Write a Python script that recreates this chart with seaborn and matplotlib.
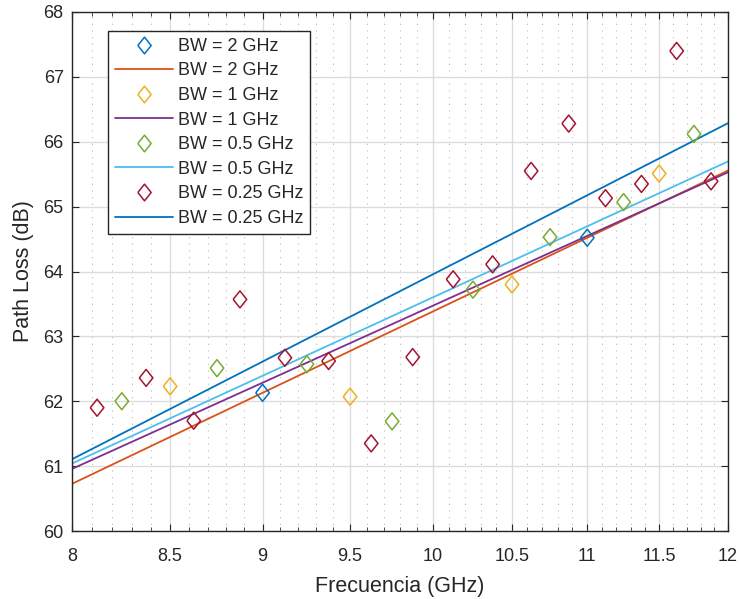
import numpy as np
import pandas as pd
import matplotlib
matplotlib.use("Agg")
import matplotlib.pyplot as plt
import seaborn as sns
from matplotlib.lines import Line2D
from matplotlib.ticker import FixedLocator, FixedFormatter, NullFormatter

# ---- data ----
freq_2 = [9.0, 11.0]
pl_2 = [62.13, 64.52]

freq_1 = [8.5, 9.5, 10.5, 11.5]
pl_1 = [62.23, 62.07, 63.80, 65.51]

freq_05 = [8.25, 8.75, 9.25, 9.75, 10.25, 10.75, 11.25, 11.75]
pl_05 = [62.00, 62.51, 62.57, 61.69, 63.72, 64.53, 65.07, 66.12]

freq_025 = [8.125, 8.375, 8.625, 8.875, 9.125, 9.375, 9.625, 9.875,
            10.125, 10.375, 10.625, 10.875, 11.125, 11.375, 11.625, 11.875]
pl_025 = [61.90, 62.36, 61.70, 63.57, 62.67, 62.62, 61.35, 62.68,
          63.88, 64.11, 65.55, 66.28, 65.13, 65.35, 67.40, 65.39]

labels = ["BW = 2 GHz", "BW = 1 GHz", "BW = 0.5 GHz", "BW = 0.25 GHz"]
marker_colors = ["#0072BD", "#EDB120", "#77AC30", "#A2142F"]
line_colors = ["#D95319", "#7E2F8E", "#4DBEEE", "#0072BD"]

x_ticks = [8, 8.5, 9, 9.5, 10, 10.5, 11, 11.5, 12]
x_tick_labels = ["8", "8.5", "9", "9.5", "10", "10.5", "11", "11.5", "12"]
y_ticks = [60, 61, 62, 63, 64, 65, 66, 67, 68]

sets = [(freq_2, pl_2), (freq_1, pl_1), (freq_05, pl_05), (freq_025, pl_025)]

sns.set_style("white")
plt.rcParams["font.family"] = ["Liberation Sans", "DejaVu Sans"]
text_c = "#262626"

fig = plt.figure(figsize=(7.39, 5.99), dpi=100)
ax = fig.add_axes([72 / 739, 1 - 531 / 599, 656 / 739, 519 / 599])
ax.set_xscale("log")

diamond = [(-0.4, 0), (0, 0.5), (0.4, 0), (0, -0.5), (-0.4, 0)]

handles = []
xfit = np.linspace(8, 12, 50)
for (f, p), lab, mc, lc in zip(sets, labels, marker_colors, line_colors):
    df = pd.DataFrame({"f": f, "pl": p})
    sns.scatterplot(data=df, x="f", y="pl", ax=ax, marker=diamond, s=150,
                    facecolors="none", edgecolor=mc, linewidth=1.1, color=mc,
                    zorder=3)
    coef = np.polyfit(np.log10(df["f"]), df["pl"], 1)
    fit_df = pd.DataFrame({"f": xfit, "pl": np.polyval(coef, np.log10(xfit))})
    sns.lineplot(data=fit_df, x="f", y="pl", ax=ax, color=lc, linewidth=1.3,
                 zorder=2)
    handles.append(Line2D([], [], linestyle="none", marker=diamond,
                          markersize=12, markerfacecolor="none",
                          markeredgecolor=mc, markeredgewidth=1.1, label=lab))
    handles.append(Line2D([], [], color=lc, linewidth=1.3, label=lab))

ax.set_xlim(8, 12)
ax.set_ylim(60, 68)
ax.xaxis.set_major_locator(FixedLocator(x_ticks))
ax.xaxis.set_major_formatter(FixedFormatter(x_tick_labels))
minor = [round(v, 1) for v in np.arange(8.1, 12.0, 0.1) if abs(v * 2 - round(v * 2)) > 1e-6]
ax.xaxis.set_minor_locator(FixedLocator(minor))
ax.xaxis.set_minor_formatter(NullFormatter())
ax.set_yticks(y_ticks)

ax.grid(True, which="major", color="#dcdcdc", linewidth=1.0, zorder=0)
ax.grid(True, which="minor", axis="x", color="#b8b8b8", linewidth=0.8,
        linestyle=(0, (1, 5)), zorder=0)
ax.set_axisbelow(True)

for s in ax.spines.values():
    s.set_color(text_c)
    s.set_linewidth(1.0)
ax.tick_params(which="major", direction="in", length=5, width=0.8,
               top=True, right=True, bottom=True, left=True, colors=text_c,
               labelsize=13, labelcolor=text_c)
ax.tick_params(axis="x", which="major", pad=12)
ax.tick_params(axis="y", which="major", pad=6)
ax.tick_params(which="minor", direction="in", length=3, width=0.6,
               top=True, bottom=True, colors=text_c)

ax.set_xlabel("Frecuencia (GHz)", fontsize=15.5, color=text_c, labelpad=8)
ax.set_ylabel("Path Loss (dB)", fontsize=15.5, color=text_c, labelpad=7)

leg = ax.legend(handles=handles, loc="upper left",
                bbox_to_anchor=(36 / 656, 500 / 519), borderaxespad=0,
                fontsize=13, frameon=True, fancybox=False, framealpha=1,
                edgecolor=text_c, handlelength=3.2, handletextpad=0.3,
                labelspacing=0.42, borderpad=0.38)
leg.get_frame().set_linewidth(1.0)
for t in leg.get_texts():
    t.set_color(text_c)

fig.savefig("out.png", dpi=100)
